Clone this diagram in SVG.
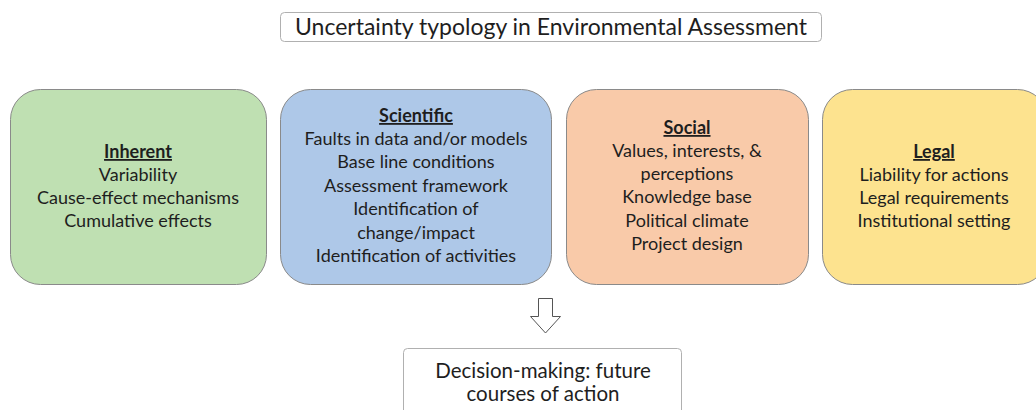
<svg xmlns="http://www.w3.org/2000/svg" width="1036" height="410" viewBox="0 0 1036 410">
  <style>
    text { font-family: "Lato", "Liberation Sans", sans-serif; fill: #1e1e1e; text-anchor: middle; }
    .body { font-size: 18px; }
    .head { font-size: 18px; font-weight: bold; text-decoration: underline; }
    .title { font-size: 23px; }
    .decide { font-size: 20.5px; }
    .box { stroke: #8a8a8a; stroke-width: 1; }
    .plain { fill: #ffffff; stroke: #b0b0b0; stroke-width: 1; }
  </style>
  <rect width="1036" height="410" fill="#ffffff"/>

  <g id="title">
    <rect class="plain" x="280.5" y="12.5" width="541" height="29" rx="4"/>
    <text class="title" x="551" y="35">Uncertainty typology in Environmental Assessment</text>
  </g>

  <g id="inherent">
    <rect class="box" x="10.5" y="89.5" width="256" height="195" rx="30" fill="#bfe0b2"/>
    <text class="head" x="138" y="158">Inherent</text>
    <text class="body" x="138" y="181">Variability</text>
    <text class="body" x="138" y="204">Cause-effect mechanisms</text>
    <text class="body" x="138" y="227">Cumulative effects</text>
  </g>

  <g id="scientific">
    <rect class="box" x="280.5" y="89.5" width="271" height="195" rx="30" fill="#aec8e8"/>
    <text class="head" x="416" y="122">Scientific</text>
    <text class="body" x="416" y="145">Faults in data and/or models</text>
    <text class="body" x="416" y="168">Base line conditions</text>
    <text class="body" x="416" y="192">Assessment framework</text>
    <text class="body" x="416" y="215">Identification of</text>
    <text class="body" x="416" y="239">change/impact</text>
    <text class="body" x="416" y="262">Identification of activities</text>
  </g>

  <g id="social">
    <rect class="box" x="566.5" y="89.5" width="242" height="195" rx="30" fill="#f9caa9"/>
    <text class="head" x="687" y="134">Social</text>
    <text class="body" x="687" y="157">Values, interests, &amp;</text>
    <text class="body" x="687" y="180">perceptions</text>
    <text class="body" x="687" y="203">Knowledge base</text>
    <text class="body" x="687" y="227">Political climate</text>
    <text class="body" x="687" y="250">Project design</text>
  </g>

  <g id="legal">
    <rect class="box" x="822.5" y="89.5" width="225" height="195" rx="30" fill="#fde38f"/>
    <text class="head" x="934" y="158">Legal</text>
    <text class="body" x="934" y="181">Liability for actions</text>
    <text class="body" x="934" y="204">Legal requirements</text>
    <text class="body" x="934" y="227">Institutional setting</text>
  </g>

  <g id="connectors">
    <path d="M538.5 298.5 H552.5 V316.5 H560.5 L545.5 333 L530.5 316.5 H538.5 Z" fill="#ffffff" stroke="#555555" stroke-width="1"/>
  </g>

  <g id="decision">
    <rect class="plain" x="403.5" y="348.5" width="278" height="80" rx="4"/>
    <text class="decide" x="543" y="378">Decision-making: future</text>
    <text class="decide" x="543" y="401">courses of action</text>
  </g>
</svg>
